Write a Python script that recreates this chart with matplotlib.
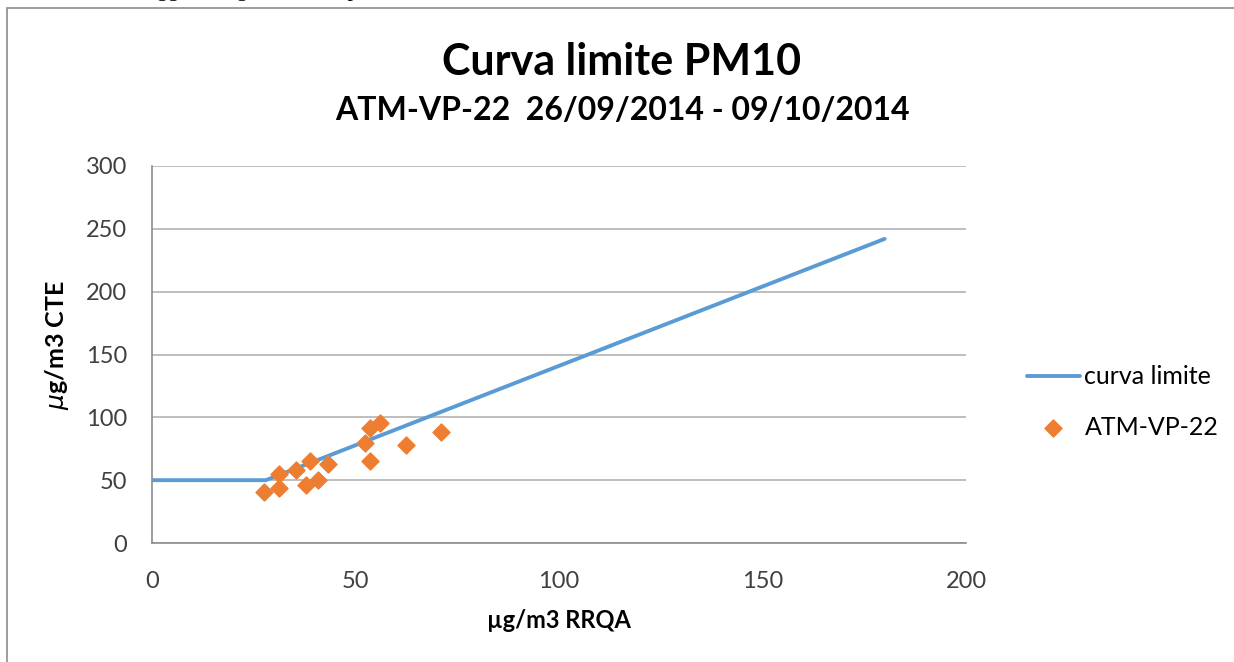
import matplotlib
matplotlib.use('Agg')
import matplotlib.pyplot as plt
from matplotlib import rcParams, patches

# Limit curve (piecewise)
curve_x = [0, 28, 180]
curve_y = [50, 50, 242]

# Measured points ATM-VP-22
rrqa = [27.5, 31.2, 31.2, 35.4, 37.8, 38.8, 40.7, 43.2, 52.4, 53.6, 55.9, 53.6, 62.4, 70.9]
cte = [40.8, 43.5, 54.9, 58.1, 46.2, 65.5, 50.2, 62.6, 79.9, 91.3, 95.3, 65.5, 78.0, 88.1]

xticks = [0, 50, 100, 150, 200]
yticks = [0, 50, 100, 150, 200, 250, 300]

rcParams['font.family'] = ['Lato', 'DejaVu Sans']
rcParams['font.size'] = 16

fig = plt.figure(figsize=(12.34, 6.62), dpi=100)
W, H = 1234, 662

# frame of the embedded chart
fig.patches.append(patches.Rectangle((7 / W, -0.1), 1.2, (H - 8) / H + 0.1,
                                     transform=fig.transFigure, fill=False,
                                     edgecolor='#8c8c8c', linewidth=1.2))
# clipped text line of the page above the chart
fig.text(0.0, 1 + 4 / H, 'contenute nella legge, che genera da superamento',
         family='Liberation Serif', fontsize=16, va='baseline', ha='left')

ax = fig.add_axes([152 / W, (H - 543) / H, (966 - 152) / W, (543 - 166) / H])
ax.plot(curve_x, curve_y, color='#5B9BD5', linewidth=2.8, label='curva limite',
        solid_capstyle='round')
ax.scatter(rrqa, cte, marker='D', s=75, color='#ED7D31', label='ATM-VP-22', zorder=3)

ax.set_xlim(0, 200)
ax.set_ylim(0, 300)
ax.set_xticks(xticks)
ax.set_yticks(yticks)
ax.grid(axis='y', color='#b3b3b3', linewidth=1.2)
ax.set_axisbelow(True)
for s in ['top', 'right']:
    ax.spines[s].set_visible(False)
for s in ['left', 'bottom']:
    ax.spines[s].set_color('#8c8c8c')
    ax.spines[s].set_linewidth(1.2)
ax.tick_params(length=0, pad=20, labelsize=17, colors='#404040')
ax.tick_params(axis='y', pad=18)

ax.set_xlabel('µg/m3 RRQA', fontweight='bold', fontsize=17)
ax.xaxis.set_label_coords(0.5, (543 - 609) / 377)
ax.set_ylabel(r'$\mu$g/m3 CTE', fontweight='bold', fontsize=18)
ax.yaxis.set_label_coords((71 - 152) / 814, (543 - 345) / 377)

fig.text(622 / W, 1 - 62 / H, 'Curva limite PM10', ha='center', va='center',
         fontsize=31, fontweight='bold')
fig.text(622 / W, 1 - 110 / H, 'ATM-VP-22  26/09/2014 - 09/10/2014', ha='center',
         va='center', fontsize=23, fontweight='bold')

fig.legend(loc='center left', bbox_to_anchor=(1017 / W, 1 - 402 / H), frameon=False,
           fontsize=18, handlelength=2.1, handletextpad=0.2, labelspacing=1.1,
           borderaxespad=0)

fig.savefig('out.png', dpi=100)
